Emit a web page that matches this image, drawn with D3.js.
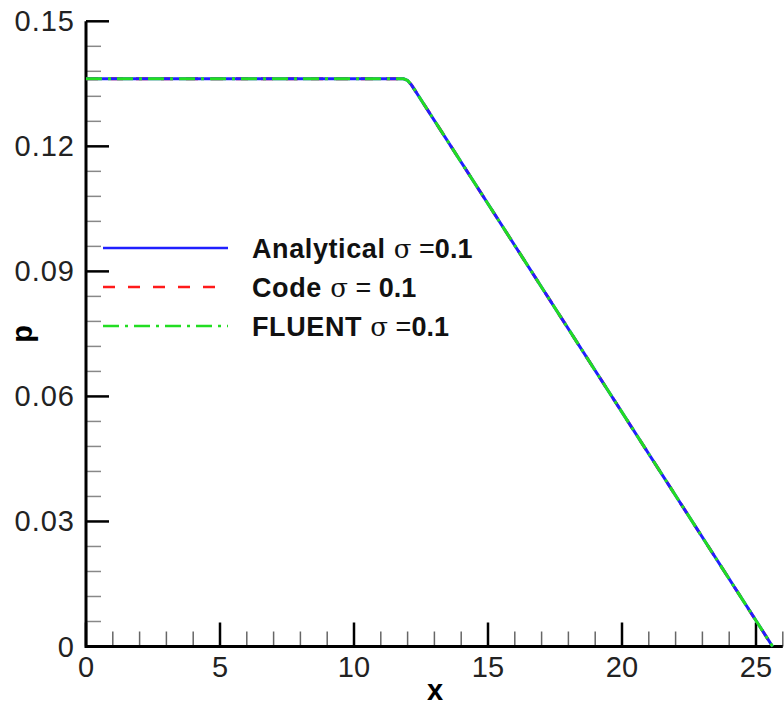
<!DOCTYPE html>
<html>
<head>
<meta charset="utf-8">
<script src="https://cdn.jsdelivr.net/npm/d3@7"></script>
<style>
  body { margin: 0; background: #fff; }
  svg { display: block; font-family: Arial, 'Liberation Sans', sans-serif; }
</style>
</head>
<body>
<svg id="chart" width="784" height="709"></svg>
<script>
// ── Data ─────────────────────────────────────────────────────────────
const xTicks = [0, 5, 10, 15, 20, 25];
const yTicks = [0, 0.03, 0.06, 0.09, 0.12, 0.15];
const yTickLabels = ['0', '0.03', '0.06', '0.09', '0.12', '0.15'];

const analyticalX = [0, 11.85, 12.0, 12.15, 25.62];
const analyticalP = [0.1362, 0.1362, 0.1358, 0.1347, 0];
const codeX = [0, 11.85, 12.0, 12.15, 25.62];
const codeP = [0.1362, 0.1362, 0.1358, 0.1347, 0];
const fluentX = [0, 11.85, 12.0, 12.15, 25.62];
const fluentP = [0.1362, 0.1362, 0.1358, 0.1347, 0];

const seriesNames = ['Analytical', 'Code', 'FLUENT'];

// ── Layout ───────────────────────────────────────────────────────────
const svg = d3.select('#chart');
const x = d3.scaleLinear().domain([0, 26]).range([86, 782.8]);
const y = d3.scaleLinear().domain([0, 0.15]).range([646.5, 21.3]);

// minor ticks
const xMinor = d3.range(0, 27, 1).filter(v => v % 5 !== 0);
const yMinor = d3.range(0, 26, 1).map(i => i * 0.006).filter((v, i) => i % 5 !== 0);

const axes = svg.append('g');

axes.selectAll('.xminor').data(xMinor).join('line')
  .attr('x1', d => x(d)).attr('x2', d => x(d))
  .attr('y1', y(0)).attr('y2', y(0) - 15)
  .attr('stroke', '#666').attr('stroke-width', 1.5);

axes.selectAll('.yminor').data(yMinor).join('line')
  .attr('x1', x(0)).attr('x2', x(0) + 15)
  .attr('y1', d => y(d)).attr('y2', d => y(d))
  .attr('stroke', '#888').attr('stroke-width', 1.5);

axes.selectAll('.xmajor').data(xTicks).join('line')
  .attr('x1', d => x(d)).attr('x2', d => x(d))
  .attr('y1', y(0)).attr('y2', y(0) - 24)
  .attr('stroke', '#000').attr('stroke-width', 2.5);

axes.selectAll('.ymajor').data(yTicks).join('line')
  .attr('x1', x(0)).attr('x2', x(0) + 23)
  .attr('y1', d => y(d)).attr('y2', d => y(d))
  .attr('stroke', '#000').attr('stroke-width', 2.5);

// axis lines
axes.append('path')
  .attr('d', `M${x(0)},${y(0.15)}V${y(0)}H${x(26)}`)
  .attr('fill', 'none').attr('stroke', '#000').attr('stroke-width', 3);

// tick labels
axes.selectAll('.xlab').data(xTicks).join('text')
  .attr('x', d => x(d)).attr('y', 677)
  .attr('text-anchor', 'middle')
  .attr('font-size', 29).attr('fill', '#222')
  .text(d => d);

axes.selectAll('.ylab').data(yTicks).join('text')
  .attr('x', 75).attr('y', d => y(d) + 10)
  .attr('text-anchor', 'end')
  .attr('font-size', 29).attr('fill', '#222')
  .attr('letter-spacing', 1)
  .text((d, i) => yTickLabels[i]);

// axis titles
svg.append('text')
  .attr('x', 435).attr('y', 700)
  .attr('text-anchor', 'middle')
  .attr('font-size', 29).attr('font-weight', 'bold')
  .text('x');

svg.append('text')
  .attr('transform', 'translate(32,334) rotate(-90)')
  .attr('text-anchor', 'middle')
  .attr('font-size', 29).attr('font-weight', 'bold')
  .text('p');

// ── Lines ────────────────────────────────────────────────────────────
const line = d3.line().x(d => x(d[0])).y(d => y(d[1]));
const zip = (xs, ys) => xs.map((v, i) => [v, ys[i]]);

const styles = [
  { color: '#2020ff', dash: null },
  { color: '#ff1a1a', dash: '12,13' },
  { color: '#22dd22', dash: '16,6,3,6' },
];
const seriesData = [zip(analyticalX, analyticalP), zip(codeX, codeP), zip(fluentX, fluentP)];

// draw red first, then blue, then green on top
[1, 0, 2].forEach(i => {
  svg.append('path')
    .datum(seriesData[i])
    .attr('d', line)
    .attr('fill', 'none')
    .attr('stroke', styles[i].color)
    .attr('stroke-width', 3)
    .attr('stroke-dasharray', styles[i].dash);
});

// ── Legend ───────────────────────────────────────────────────────────
const legend = svg.append('g');
const legendY = [248, 287, 326];
const legendText = [
  { name: 'Analytical', eq: ' =', val: '0.1' },
  { name: 'Code', eq: ' = ', val: '0.1' },
  { name: 'FLUENT', eq: ' =', val: '0.1' },
];

seriesNames.forEach((name, i) => {
  legend.append('line')
    .attr('x1', 103).attr('x2', 228)
    .attr('y1', legendY[i]).attr('y2', legendY[i])
    .attr('stroke', styles[i].color)
    .attr('stroke-width', 2.5)
    .attr('stroke-dasharray', styles[i].dash);

  const t = legend.append('text')
    .attr('x', 252).attr('y', legendY[i] + 10)
    .attr('font-size', 27).attr('fill', '#111');
  t.append('tspan').attr('font-weight', 'bold').attr('letter-spacing', 0.6).text(legendText[i].name);
  t.append('tspan').attr('font-family', "'DejaVu Serif', serif").attr('font-size', 26).text(' σ');
  t.append('tspan').text(legendText[i].eq);
  t.append('tspan').attr('font-weight', 'bold').text(legendText[i].val);
});
</script>
</body>
</html>
